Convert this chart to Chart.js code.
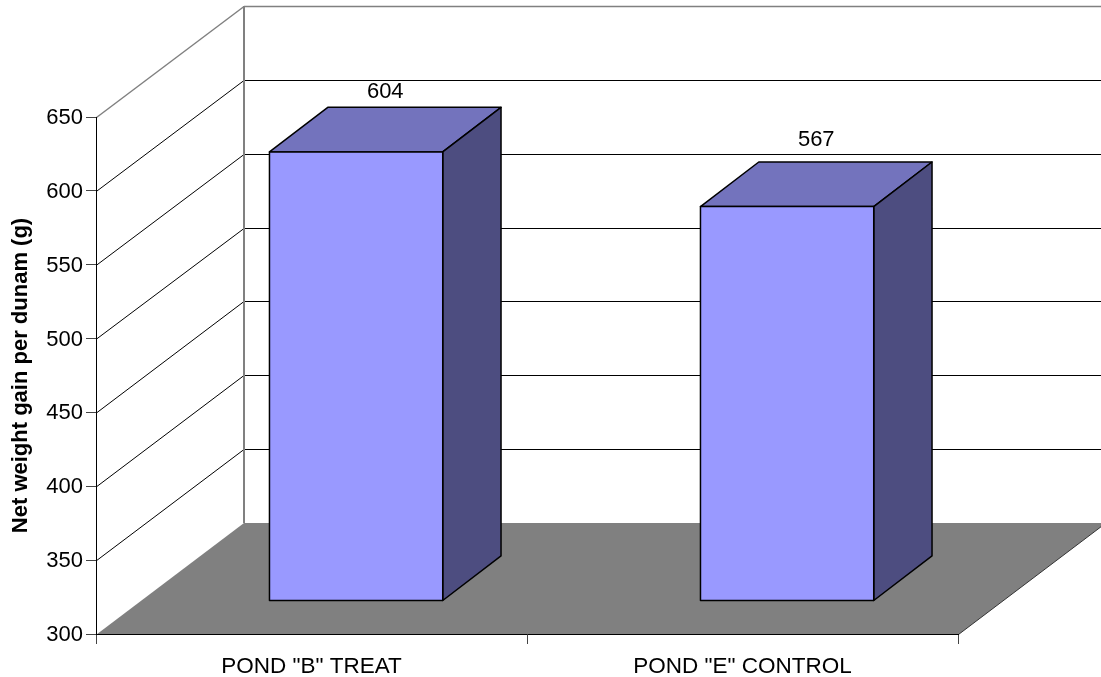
<!DOCTYPE html>
<html>
<head>
<meta charset="utf-8">
<style>
  html, body { margin: 0; padding: 0; background: #fff; }
  canvas { display: block; }
</style>
</head>
<body>
<canvas id="chart" width="1101" height="677"></canvas>
<script src="https://cdn.jsdelivr.net/npm/chart.js@4/dist/chart.umd.js"></script>
<script>
const categories = ['POND "B" TREAT', 'POND "E" CONTROL'];
const netGain = [604, 567];
const axisMin = 300;
const axisMax = 650;
const axisStep = 50;

// oblique projection: how far the back wall and the bars sit from the front plane
const wall = { dx: 147.5, dy: -111 };
const barShift = { dx: 44.6, dy: -33 };
const barDepth = { dx: 58.3, dy: -44.6 };
const labelLift = [15, 22];

const frontColor = '#9999ff';
const topColor = '#7373bd';
const sideColor = '#4d4d80';
const floorColor = '#808080';
const fontFamily = '"Liberation Sans", Arial, sans-serif';

function poly(ctx, pts, fill, stroke, width) {
    ctx.beginPath();
    pts.forEach((p, i) => i ? ctx.lineTo(p[0], p[1]) : ctx.moveTo(p[0], p[1]));
    ctx.closePath();
    if (fill) {
        ctx.fillStyle = fill;
        ctx.fill();
    }
    if (stroke) {
        ctx.strokeStyle = stroke;
        ctx.lineWidth = width;
        ctx.lineJoin = 'round';
        ctx.stroke();
    }
}

function segment(ctx, x1, y1, x2, y2, color, width) {
    ctx.beginPath();
    ctx.moveTo(x1, y1);
    ctx.lineTo(x2, y2);
    ctx.strokeStyle = color;
    ctx.lineWidth = width;
    ctx.stroke();
}

// walls, floor and the gridlines that wrap round them
const roomPlugin = {
    id: 'room',
    beforeDraw(chart) {
        const { ctx, chartArea: area, scales: { y } } = chart;
        const left = area.left + 0.5;
        const right = area.right + 0.5;
        const floorY = y.getPixelForValue(axisMin);
        ctx.save();

        y.ticks.forEach(t => {
            if (t.value === axisMin) return;
            const py = y.getPixelForValue(t.value);
            const backY = Math.round(py + wall.dy) + 0.5;
            const color = t.value === axisMax ? '#808080' : '#000';
            const width = t.value === axisMax ? 1.5 : 1;
            segment(ctx, left, py + 0.5, left + wall.dx, backY, color, width);
            segment(ctx, left + wall.dx, backY, right + wall.dx, backY, color, width);
        });

        segment(ctx, left + wall.dx, y.getPixelForValue(axisMax) + wall.dy,
            left + wall.dx, floorY + wall.dy, '#808080', 2);

        poly(ctx, [
            [left, floorY + 0.5],
            [right, floorY + 0.5],
            [right + wall.dx, floorY + wall.dy],
            [left + wall.dx, floorY + wall.dy]
        ], floorColor);
        segment(ctx, right, floorY + 0.5, right + wall.dx, floorY + wall.dy, '#333', 1);
        ctx.restore();
    }
};

// Chart.js paints the front faces, shifted back onto the floor; top, side and outlines are added here
const boxPlugin = {
    id: 'box',
    beforeDatasetsDraw(chart) {
        const { ctx } = chart;
        ctx.save();
        ctx.translate(barShift.dx, barShift.dy);
        chart.getDatasetMeta(0).data.forEach(bar => {
            const l = bar.x - bar.width / 2;
            const r = bar.x + bar.width / 2;
            const t = bar.y;
            const b = bar.base;
            const d = barDepth;
            poly(ctx, [[l, t], [r, t], [r + d.dx, t + d.dy], [l + d.dx, t + d.dy]], topColor, '#000', 1.5);
            poly(ctx, [[r, t], [r, b], [r + d.dx, b + d.dy], [r + d.dx, t + d.dy]], sideColor, '#000', 1.5);
        });
    },
    afterDatasetsDraw(chart) {
        const { ctx } = chart;
        chart.getDatasetMeta(0).data.forEach(bar => {
            const l = bar.x - bar.width / 2;
            const r = bar.x + bar.width / 2;
            poly(ctx, [[l, bar.y], [r, bar.y], [r, bar.base], [l, bar.base]], null, '#000', 1.5);
        });
        ctx.restore();

        // value labels float above the middle of each top face
        ctx.save();
        ctx.font = '22px ' + fontFamily;
        ctx.fillStyle = '#000';
        ctx.textAlign = 'center';
        ctx.textBaseline = 'middle';
        chart.getDatasetMeta(0).data.forEach((bar, i) => {
            const x = bar.x + barShift.dx + barDepth.dx / 2;
            const y = bar.y + barShift.dy + barDepth.dy - labelLift[i];
            ctx.fillText(String(netGain[i]), x, y);
        });
        ctx.restore();
    }
};

new Chart(document.getElementById('chart'), {
    type: 'bar',
    data: {
        labels: categories,
        datasets: [{
            data: netGain,
            base: axisMin,
            backgroundColor: frontColor,
            borderWidth: 0,
            categoryPercentage: 1,
            barPercentage: 0.402,
            clip: false
        }]
    },
    options: {
        responsive: false,
        animation: false,
        layout: { padding: { left: 0, top: 117, right: 143, bottom: 0 } },
        plugins: {
            legend: { display: false },
            tooltip: { enabled: false }
        },
        scales: {
            x: {
                afterFit: scale => { scale.height = 43; },
                border: { color: '#000', width: 1 },
                grid: { drawOnChartArea: false, tickLength: 10, tickColor: '#444' },
                ticks: {
                    color: '#000',
                    font: { family: fontFamily, size: 22.5 },
                    maxRotation: 0,
                    autoSkip: false,
                    padding: 9
                }
            },
            y: {
                min: axisMin,
                max: axisMax,
                afterFit: scale => { scale.width = 96; },
                border: { color: '#000', width: 1 },
                grid: { drawOnChartArea: false, tickLength: 10, tickColor: '#444' },
                ticks: {
                    stepSize: axisStep,
                    color: '#000',
                    font: { family: fontFamily, size: 22 },
                    padding: 3,
                    labelOffset: 1
                },
                title: {
                    display: true,
                    text: 'Net weight gain per dunam (g)',
                    color: '#000',
                    font: { family: fontFamily, size: 22, weight: 'bold' },
                    padding: { top: 8, bottom: 0 }
                }
            }
        }
    },
    plugins: [roomPlugin, boxPlugin]
});
</script>
</body>
</html>
